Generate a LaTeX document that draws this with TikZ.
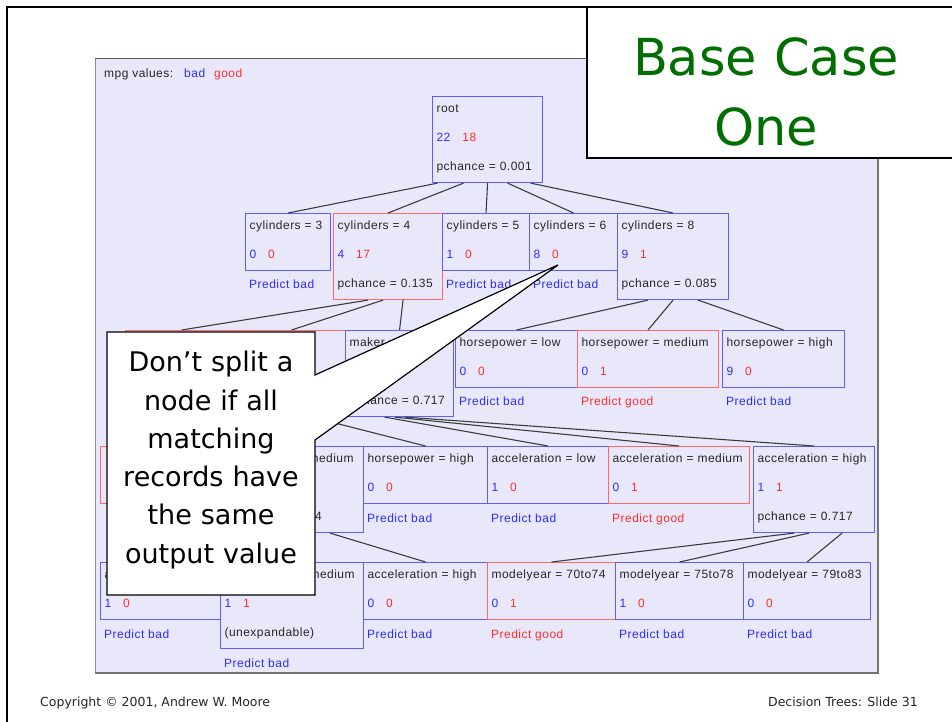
\documentclass[tikz,border=0pt]{standalone}
\usepackage{fontspec}
\usetikzlibrary{positioning}

\newfontfamily\treefont[LetterSpace=4]{Liberation Sans}
\newfontfamily\slidefont{DejaVu Sans}

\definecolor{panelbg}{RGB}{232,232,250}
\definecolor{bluebox}{RGB}{95,95,255}
\definecolor{redbox}{RGB}{255,105,105}
\definecolor{badtxt}{RGB}{45,45,255}
\definecolor{goodtxt}{RGB}{255,45,45}
\definecolor{titlegreen}{RGB}{0,110,0}
\definecolor{edgegray}{RGB}{60,60,60}

\newcommand{\cnt}[2]{\textcolor{badtxt}{#1}\hspace{12pt}\textcolor{goodtxt}{#2}}
\newcommand{\lastdepth}{\rule[-4pt]{0pt}{4pt}}

\begin{document}
\begin{tikzpicture}[x=1pt, y=-1pt,
    tbox/.style={draw=bluebox, line width=1.1pt, anchor=north west, align=left,
        text width=#1pt-8pt, inner xsep=4pt, inner ysep=0pt, minimum height=57pt,
        text=black!85, font=\treefont\fontsize{12}{29}\selectfont,
        execute at end node=\lastdepth},
    gbox/.style={tbox=#1, draw=redbox},
    tall/.style={minimum height=86pt},
    predbad/.style={anchor=north west, inner xsep=4pt, inner ysep=0pt,
        text=badtxt, font=\treefont\fontsize{12}{14}\selectfont},
    predgood/.style={predbad, text=goodtxt},
    edge/.style={draw=edgegray, line width=1.1pt},
    slidetext/.style={inner sep=0pt, text=black!85, font=\slidefont\fontsize{12.5}{15}\selectfont}
]
    \useasboundingbox (0,0) rectangle (952,722);

    % screenshot panel
    \fill[panelbg] (95,59) rectangle (878,673);
    \draw[black!45, line width=1pt] (95,673) -- (95,59);
    \draw[black!65, line width=1pt] (95,59) -- (878,59);
    \draw[black!55, line width=2pt] (878,59) -- (878,673) -- (95,673);

    \node[predbad, anchor=base west, text=black!85] (mpg) at (100,78)
        {mpg values:\hspace{11pt}\textcolor{badtxt}{bad}\hspace{9pt}\textcolor{goodtxt}{good}};

    % level 0 and 1
    \node[tbox=110, tall] (root) at (432,96) {root\\\cnt{22}{18}\\pchance = 0.001};
    \node[tbox=85] (cyl3) at (245,213) {cylinders = 3\\\cnt{0}{0}};
    \node[gbox=109, tall] (cyl4) at (333,213) {cylinders = 4\\\cnt{4}{17}\\pchance = 0.135};
    \node[tbox=87] (cyl5) at (442,213) {cylinders = 5\\\cnt{1}{0}};
    \node[tbox=88] (cyl6) at (529,213) {cylinders = 6\\\cnt{8}{0}};
    \node[tbox=111, tall] (cyl8) at (617,213) {cylinders = 8\\\cnt{9}{1}\\pchance = 0.085};
    \node[predbad, below right=9pt and 0pt of cyl3.south west] (pcyl3) {Predict bad};
    \node[predbad, below right=9pt and 0pt of cyl5.south west] (pcyl5) {Predict bad};
    \node[predbad, below right=9pt and 0pt of cyl6.south west] (pcyl6) {Predict bad};

    % level 2
    \node[gbox=112] (mkam) at (125,330) {};
    \node[gbox=108, tall] (mkas) at (237,330) {};
    \node[tbox=108, tall] (mkeu) at (345,330) {maker = europe\\\cnt{2}{2}\\pchance = 0.717};
    \node[tbox=122] (hplow) at (455,330) {horsepower = low\\\cnt{0}{0}};
    \node[gbox=141] (hpmed) at (577,330) {horsepower = medium\\\cnt{0}{1}};
    \node[tbox=122] (hphigh) at (722,330) {horsepower = high\\\cnt{9}{0}};
    \node[predbad, below right=9pt and 0pt of hplow.south west] (phplow) {Predict bad};
    \node[predgood, below right=9pt and 0pt of hpmed.south west] (phpmed) {Predict good};
    \node[predbad, below right=9pt and 0pt of hphigh.south west] (phphigh) {Predict bad};

    % level 3
    \node[gbox=122] (aslow) at (100,446) {};
    \node[tbox=141, tall] (asmed) at (222,446) {horsepower = medium\\\mbox{}\\pchance = 0.894};
    \node[tbox=124] (ashigh) at (363,446) {horsepower = high\\\cnt{0}{0}};
    \node[tbox=121] (aclow) at (487,446) {acceleration = low\\\cnt{1}{0}};
    \node[gbox=141] (acmed) at (608,446) {acceleration = medium\\\cnt{0}{1}};
    \node[tbox=121, tall] (achigh) at (753,446) {acceleration = high\\\cnt{1}{1}\\pchance = 0.717};
    \node[predbad, below right=9pt and 0pt of ashigh.south west] (pashigh) {Predict bad};
    \node[predbad, below right=9pt and 0pt of aclow.south west] (paclow) {Predict bad};
    \node[predgood, below right=9pt and 0pt of acmed.south west] (pacmed) {Predict good};

    % level 4
    \node[tbox=120] (bmlow) at (100,562) {acceleration = low\\\cnt{1}{0}};
    \node[tbox=143, tall] (bmmed) at (220,562) {acceleration = medium\\\cnt{1}{1}\\(unexpandable)};
    \node[tbox=124] (bmhigh) at (363,562) {acceleration = high\\\cnt{0}{0}};
    \node[gbox=128] (my70) at (487,562) {modelyear = 70to74\\\cnt{0}{1}};
    \node[tbox=128] (my75) at (615,562) {modelyear = 75to78\\\cnt{1}{0}};
    \node[tbox=127] (my79) at (743,562) {modelyear = 79to83\\\cnt{0}{0}};
    \node[predbad, below right=9pt and 0pt of bmlow.south west] (pbmlow) {Predict bad};
    \node[predbad, below right=9pt and 0pt of bmmed.south west] (pbmmed) {Predict bad};
    \node[predbad, below right=9pt and 0pt of bmhigh.south west] (pbmhigh) {Predict bad};
    \node[predgood, below right=9pt and 0pt of my70.south west] (pmy70) {Predict good};
    \node[predbad, below right=9pt and 0pt of my75.south west] (pmy75) {Predict bad};
    \node[predbad, below right=9pt and 0pt of my79.south west] (pmy79) {Predict bad};

    % connectors
    \draw[edge] ([xshift=-50pt]root.south) -- (cyl3.north);
    \draw[edge] ([xshift=-24pt]root.south) -- (cyl4.north);
    \draw[edge] (root.south) -- (cyl5.north);
    \draw[edge] ([xshift=20pt]root.south) -- (cyl6.north);
    \draw[edge] ([xshift=43pt]root.south) -- (cyl8.north);
    \draw[edge] ([xshift=-20pt]cyl4.south) -- (mkam.north);
    \draw[edge] ([xshift=-5pt]cyl4.south) -- (mkas.north);
    \draw[edge] ([xshift=15pt]cyl4.south) -- (mkeu.north);
    \draw[edge] ([xshift=-25pt]cyl8.south) -- (hplow.north);
    \draw[edge] (cyl8.south) -- (hpmed.north);
    \draw[edge] ([xshift=25pt]cyl8.south) -- (hphigh.north);
    \draw[edge] ([xshift=-20pt]mkas.south) -- (aslow.north);
    \draw[edge] (mkas.south) -- (asmed.north);
    \draw[edge] ([xshift=20pt]mkas.south) -- (ashigh.north);
    \draw[edge] ([xshift=-15pt]mkeu.south) -- (aclow.north);
    \draw[edge] ([xshift=-5pt]mkeu.south) -- (acmed.north);
    \draw[edge] ([xshift=5pt]mkeu.south) -- (achigh.north);
    \draw[edge] ([xshift=-20pt]asmed.south) -- (bmlow.north);
    \draw[edge] (asmed.south) -- (bmmed.north);
    \draw[edge] ([xshift=37pt]asmed.south) -- (bmhigh.north);
    \draw[edge] ([xshift=-20pt]achigh.south) -- (my70.north);
    \draw[edge] ([xshift=-5pt]achigh.south) -- (my75.north);
    \draw[edge] ([xshift=28pt]achigh.south) -- (my79.north);

    % callout
    \draw[fill=white, line width=1.2pt] (107,332) -- (315,332) -- (315,375) -- (558,265)
        -- (315,440) -- (315,595) -- (107,595) -- cycle;
    \node[anchor=north, align=center, text width=205pt, inner sep=0pt,
        font=\slidefont\fontsize{27}{38.3}\selectfont] (note) at (211,351)
        {Don’t split a\\node if all\\matching\\records have\\the same\\output value};

    % slide frame and title
    \draw[line width=1.6pt] (7,730) -- (7,7) -- (587,7);
    \draw[line width=1.6pt, fill=white] (587,7) rectangle (965,158);
    \node[anchor=north, align=center, text width=340pt, inner sep=0pt, text=titlegreen,
        font=\slidefont\fontsize{51}{70}\selectfont] (title) at (766,37) {Base Case\\One};

    % footer
    \node[slidetext, anchor=base west] (copy) at (40,706) {Copyright © 2001, Andrew W. Moore};
    \node[slidetext, anchor=base east] (slideno) at (918,706) {Decision Trees: Slide 31};
\end{tikzpicture}
\end{document}
